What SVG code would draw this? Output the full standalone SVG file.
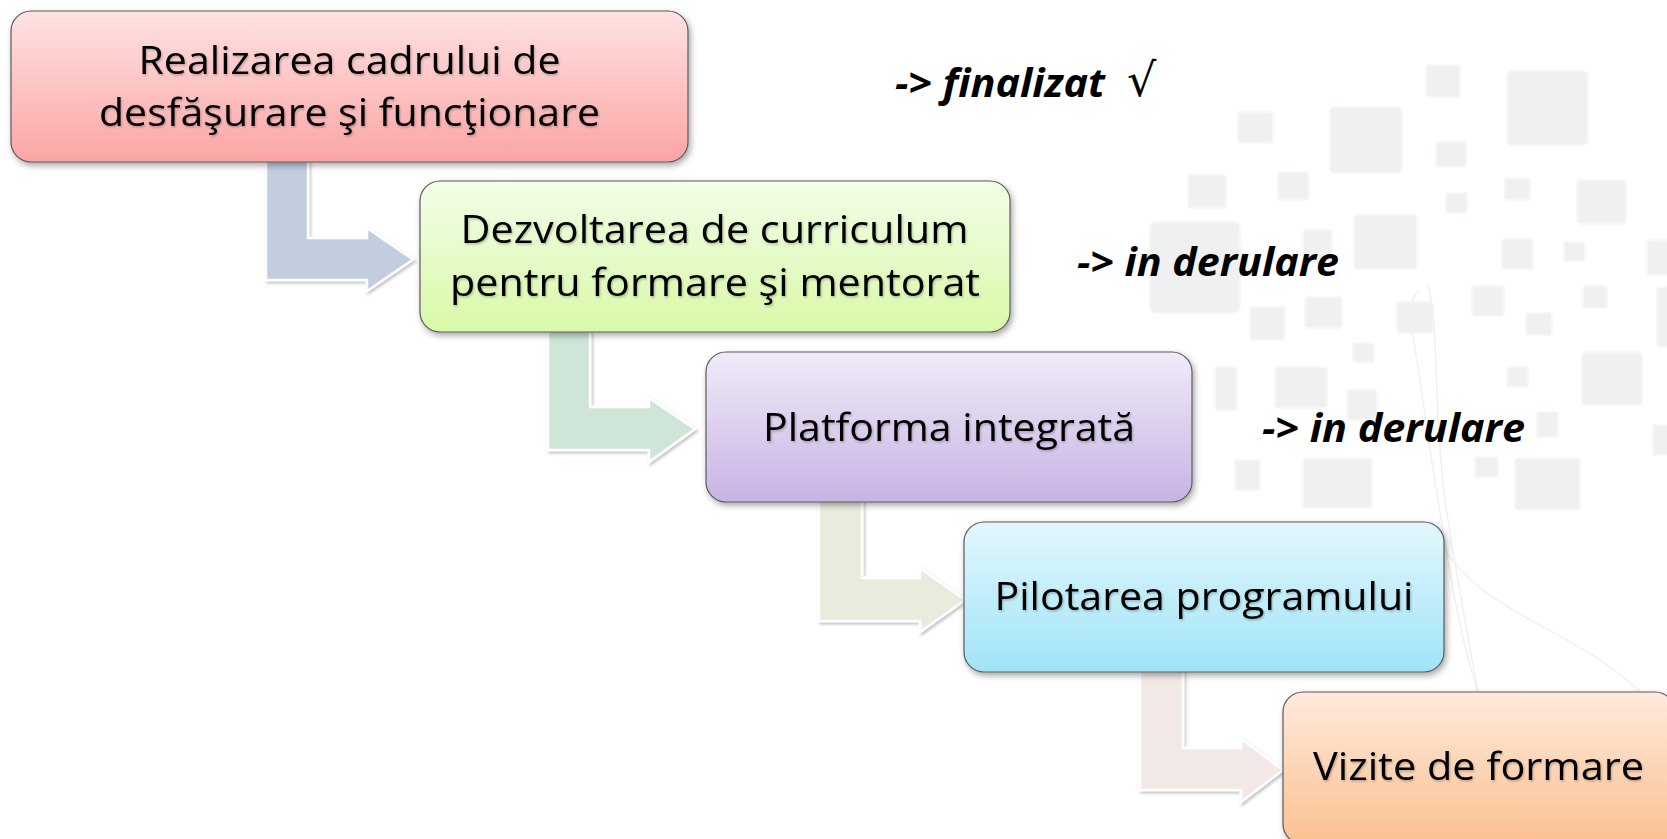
<svg xmlns="http://www.w3.org/2000/svg" width="1667" height="839" viewBox="0 0 1667 839">
<defs>
<style>
.bg rect{fill:#eff0f0;stroke:#f6f7f7;stroke-width:2}
.box{stroke:#5a5a5a;stroke-width:1.2;filter:url(#sh)}
.lbl{font-family:"Open Sans","Liberation Sans",sans-serif;font-size:38px;fill:#000;text-anchor:middle;filter:url(#ts)}
.st{font-family:"Open Sans","Liberation Sans",sans-serif;font-size:40px;font-weight:bold;font-style:italic;fill:#000}
.arr{stroke:#fff;stroke-width:2.5;stroke-linejoin:miter;filter:url(#ash)}
.swirl{fill:none;stroke:#f0f0f0;stroke-width:1.5}
</style>
<filter id="sh" x="-10%" y="-10%" width="120%" height="130%">
<feDropShadow dx="2" dy="3" stdDeviation="3" flood-color="#000" flood-opacity="0.35"/>
</filter>
<filter id="ash" x="-10%" y="-10%" width="130%" height="130%">
<feDropShadow dx="1.5" dy="2" stdDeviation="1.5" flood-color="#000" flood-opacity="0.25"/>
</filter>
<filter id="ts" x="-5%" y="-20%" width="110%" height="140%">
<feDropShadow dx="1" dy="1.5" stdDeviation="1.2" flood-color="#000" flood-opacity="0.25"/>
</filter>
<linearGradient id="g1" x1="0" y1="0" x2="0" y2="1"><stop offset="0" stop-color="#ffe2e2"/><stop offset="1" stop-color="#fba5a5"/></linearGradient>
<linearGradient id="g2" x1="0" y1="0" x2="0" y2="1"><stop offset="0" stop-color="#f3fde8"/><stop offset="1" stop-color="#d8f9a8"/></linearGradient>
<linearGradient id="g3" x1="0" y1="0" x2="0" y2="1"><stop offset="0" stop-color="#f0ebf8"/><stop offset="1" stop-color="#c8b3e4"/></linearGradient>
<linearGradient id="g4" x1="0" y1="0" x2="0" y2="1"><stop offset="0" stop-color="#e3f7fd"/><stop offset="1" stop-color="#a0e4f7"/></linearGradient>
<linearGradient id="g5" x1="0" y1="0" x2="0" y2="1"><stop offset="0" stop-color="#feeadc"/><stop offset="1" stop-color="#fbc090"/></linearGradient>
</defs>
<rect width="1667" height="839" fill="#fff"/>
<g class="bg">
<rect x="1426" y="65" width="34" height="32" rx="3"/>
<rect x="1507" y="71" width="81" height="74" rx="5"/>
<rect x="1330" y="107" width="72" height="66" rx="5"/>
<rect x="1238" y="112" width="35" height="31" rx="3"/>
<rect x="1436" y="142" width="30" height="25" rx="3"/>
<rect x="1188" y="175" width="38" height="33" rx="3"/>
<rect x="1278" y="172" width="31" height="28" rx="3"/>
<rect x="1446" y="193" width="21" height="20" rx="2"/>
<rect x="1505" y="178" width="25" height="22" rx="2"/>
<rect x="1577" y="180" width="49" height="44" rx="4"/>
<rect x="1150" y="222" width="90" height="91" rx="6"/>
<rect x="1303" y="230" width="29" height="33" rx="3"/>
<rect x="1354" y="215" width="63" height="54" rx="4"/>
<rect x="1502" y="239" width="31" height="30" rx="3"/>
<rect x="1564" y="242" width="21" height="19" rx="2"/>
<rect x="1647" y="240" width="30" height="35" rx="3"/>
<rect x="1250" y="307" width="35" height="33" rx="3"/>
<rect x="1305" y="297" width="37" height="31" rx="3"/>
<rect x="1397" y="302" width="36" height="31" rx="3"/>
<rect x="1472" y="286" width="32" height="30" rx="3"/>
<rect x="1526" y="313" width="26" height="22" rx="2"/>
<rect x="1583" y="286" width="24" height="22" rx="2"/>
<rect x="1657" y="287" width="20" height="60" rx="3"/>
<rect x="1353" y="343" width="21" height="19" rx="2"/>
<rect x="1215" y="367" width="22" height="43" rx="2"/>
<rect x="1275" y="367" width="52" height="41" rx="3"/>
<rect x="1347" y="390" width="30" height="30" rx="3"/>
<rect x="1507" y="367" width="21" height="20" rx="2"/>
<rect x="1582" y="352" width="60" height="53" rx="4"/>
<rect x="1537" y="412" width="21" height="25" rx="2"/>
<rect x="1653" y="425" width="20" height="30" rx="2"/>
<rect x="1235" y="460" width="25" height="30" rx="2"/>
<rect x="1303" y="458" width="69" height="50" rx="4"/>
<rect x="1475" y="457" width="23" height="20" rx="2"/>
<rect x="1515" y="458" width="65" height="52" rx="4"/>
</g>
<g id="swirls">
<path class="swirl" d="M1420,290 C1405,300 1412,330 1420,380 C1430,450 1440,520 1455,600 C1470,680 1500,760 1520,839"/>
<path class="swirl" d="M1428,285 C1440,330 1432,420 1448,520 C1460,600 1480,700 1505,839"/>
<path class="swirl" d="M1440,540 C1470,600 1540,620 1600,660 C1630,680 1650,700 1667,720"/>
</g>
<g id="connectors">
<path class="arr" fill="#c3cde0" d="M266,158 H308 V238 H367 V228 L413,259.5 L367,291 V280 H266 Z"/>
<path class="arr" fill="#cfe5d8" d="M548,328 H590 V407 H649 V398 L695,429 L649,462 V450 H548 Z"/>
<path class="arr" fill="#e9ecdc" d="M819,498 H862 V578 H920 V568 L965,600 L920,632 V621 H819 Z"/>
<path class="arr" fill="#f2e9e7" d="M1140,668 H1183 V748 H1241 V739 L1283,770 L1241,802 V790 H1140 Z"/>
</g>
<g id="node1">
<rect class="box" x="11" y="11" width="677" height="151" rx="20" fill="url(#g1)"/>
<text class="lbl" x="349.5" y="74" textLength="422" lengthAdjust="spacingAndGlyphs">Realizarea cadrului de</text>
<text class="lbl" x="349.5" y="126" textLength="501" lengthAdjust="spacingAndGlyphs">desfăşurare şi funcţionare</text>
</g>
<g id="node2">
<rect class="box" x="420" y="181" width="590" height="151" rx="20" fill="url(#g2)"/>
<text class="lbl" x="714.5" y="243" textLength="508" lengthAdjust="spacingAndGlyphs">Dezvoltarea de curriculum</text>
<text class="lbl" x="715" y="296" textLength="530" lengthAdjust="spacingAndGlyphs">pentru formare şi mentorat</text>
</g>
<g id="node3">
<rect class="box" x="706" y="352" width="486" height="150" rx="20" fill="url(#g3)"/>
<text class="lbl" x="949" y="441" textLength="372" lengthAdjust="spacingAndGlyphs">Platforma integrată</text>
</g>
<g id="node4">
<rect class="box" x="964" y="522" width="480" height="150" rx="20" fill="url(#g4)"/>
<text class="lbl" x="1204" y="610" textLength="419" lengthAdjust="spacingAndGlyphs">Pilotarea programului</text>
</g>
<g id="node5">
<rect class="box" x="1283" y="692" width="392" height="152" rx="20" fill="url(#g5)"/>
<text class="lbl" x="1478.5" y="780" textLength="331" lengthAdjust="spacingAndGlyphs">Vizite de formare</text>
</g>
<g id="status">
<text class="st" x="895" y="97" textLength="210" lengthAdjust="spacingAndGlyphs">-&gt; finalizat</text>
<text x="1127" y="96" font-family="DejaVu Sans, sans-serif" font-size="46" fill="#000">√</text>
<text class="st" x="1077" y="276" textLength="262" lengthAdjust="spacingAndGlyphs">-&gt; in derulare</text>
<text class="st" x="1262" y="442" textLength="263" lengthAdjust="spacingAndGlyphs">-&gt; in derulare</text>
</g>
</svg>
